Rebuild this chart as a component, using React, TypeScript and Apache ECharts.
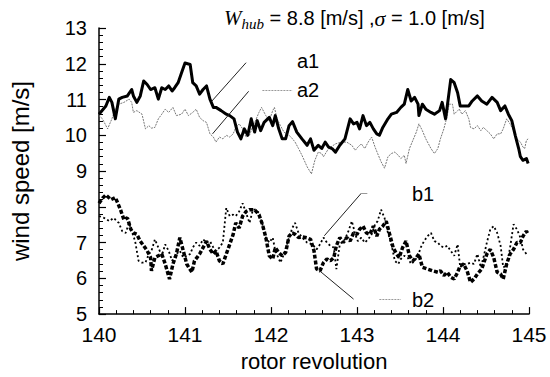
import React, { useEffect, useRef } from "react";
import * as echarts from "echarts";

const xTicks = [140, 141, 142, 143, 144, 145];
const yTicks = [5, 6, 7, 8, 9, 10, 11, 12, 13];

const a1X = [140.00,140.08,140.12,140.15,140.19,140.23,140.27,140.33,140.38,140.40,140.44,140.48,140.52,140.56,140.60,140.65,140.69,140.73,140.77,140.81,140.85,140.88,140.92,140.96,141.00,141.06,141.09,141.13,141.17,141.21,141.25,141.29,141.33,141.36,141.42,141.48,141.52,141.57,141.61,141.65,141.69,141.73,141.77,141.81,141.84,141.88,141.92,141.98,142.02,142.05,142.09,142.13,142.17,142.21,142.25,142.30,142.36,142.42,142.46,142.50,142.55,142.59,142.63,142.67,142.71,142.75,142.80,142.86,142.92,142.96,143.00,143.03,143.07,143.11,143.15,143.19,143.23,143.26,143.30,143.36,143.40,143.46,143.51,143.55,143.59,143.63,143.67,143.71,143.72,143.76,143.80,143.86,143.90,143.96,143.99,144.03,144.05,144.09,144.13,144.17,144.20,144.24,144.30,144.34,144.40,144.45,144.51,144.57,144.63,144.67,144.72,144.76,144.80,144.84,144.88,144.90,144.93,144.97,144.99];
const a1Y = [10.59,10.82,11.06,10.92,10.46,11.01,11.06,11.10,11.28,11.10,10.92,11.10,11.52,11.42,11.28,11.33,11.01,11.33,11.28,11.38,11.24,11.33,11.47,11.75,12.02,11.98,11.47,11.38,11.15,11.28,11.38,11.01,10.78,10.78,10.69,10.59,10.55,10.46,10.09,9.90,10.18,10.00,10.46,10.09,10.41,10.13,10.36,10.50,10.27,10.55,10.18,9.90,9.90,10.27,10.38,10.09,9.90,9.72,9.90,9.58,9.72,9.63,9.81,9.67,9.63,9.53,9.72,9.90,10.46,10.32,10.36,10.18,10.55,10.27,10.36,10.18,10.04,10.00,10.22,10.46,10.59,10.64,10.78,10.87,11.28,10.96,11.06,10.87,10.55,10.87,10.73,10.64,10.59,10.69,10.92,10.46,10.82,11.56,11.47,11.19,10.82,10.82,10.82,10.96,11.10,10.96,10.87,11.06,10.92,10.69,10.82,10.59,10.41,10.00,9.63,9.40,9.30,9.35,9.21];

const a2X = [140.00,140.04,140.10,140.15,140.19,140.23,140.29,140.35,140.38,140.40,140.44,140.50,140.54,140.58,140.61,140.65,140.69,140.73,140.77,140.81,140.86,140.90,140.96,141.00,141.04,141.09,141.13,141.17,141.21,141.25,141.29,141.33,141.36,141.40,141.44,141.48,141.52,141.56,141.59,141.63,141.67,141.71,141.75,141.79,141.82,141.86,141.89,141.94,141.98,142.02,142.04,142.07,142.11,142.15,142.21,142.25,142.28,142.32,142.36,142.42,142.47,142.51,142.55,142.59,142.61,142.67,142.75,142.82,142.88,142.94,142.98,143.01,143.05,143.09,143.13,143.17,143.21,143.24,143.28,143.32,143.36,143.40,143.44,143.48,143.51,143.55,143.57,143.61,143.65,143.69,143.72,143.76,143.80,143.86,143.90,143.94,143.97,144.01,144.05,144.07,144.11,144.13,144.17,144.19,144.22,144.26,144.30,144.32,144.36,144.40,144.44,144.47,144.51,144.55,144.59,144.63,144.67,144.70,144.74,144.78,144.82,144.86,144.90,144.93,144.95,144.97,144.99];
const a2Y = [10.55,10.46,10.18,10.46,10.73,10.87,10.92,11.01,10.92,10.64,10.69,10.59,10.18,10.27,10.20,10.22,10.46,10.59,10.73,10.64,10.78,10.55,10.59,10.73,10.55,10.64,10.73,10.50,10.41,10.36,10.04,9.95,9.81,9.95,9.90,10.00,9.95,10.04,10.22,10.32,10.18,9.95,10.00,10.27,10.41,10.64,10.78,10.55,10.41,10.69,10.78,10.46,10.27,10.09,10.00,9.90,9.81,9.63,9.44,9.12,8.92,9.30,9.53,9.49,9.40,9.63,9.76,9.81,9.81,9.72,9.58,9.67,9.76,9.63,9.81,9.95,9.67,9.49,9.26,9.08,9.40,9.49,9.53,9.44,9.35,9.44,9.21,9.63,9.86,10.09,10.32,10.13,9.90,9.63,9.49,9.63,9.90,10.18,10.55,10.87,10.87,10.59,10.69,10.73,10.59,10.69,10.46,10.22,10.18,10.27,10.13,10.22,10.13,10.04,9.90,10.04,10.04,10.18,10.46,10.32,10.13,9.90,9.81,9.67,9.63,9.86,9.90];

const b1X = [140.00,140.06,140.12,140.17,140.23,140.27,140.31,140.35,140.38,140.42,140.46,140.50,140.54,140.58,140.61,140.65,140.69,140.73,140.77,140.81,140.85,140.90,140.94,140.98,141.02,141.06,141.09,141.13,141.17,141.21,141.25,141.29,141.33,141.36,141.40,141.44,141.48,141.52,141.56,141.59,141.63,141.67,141.71,141.75,141.79,141.82,141.86,141.90,141.94,141.98,142.02,142.05,142.11,142.15,142.21,142.25,142.28,142.32,142.36,142.42,142.48,142.53,142.57,142.61,142.65,142.69,142.73,142.76,142.80,142.86,142.90,142.94,142.98,143.01,143.05,143.09,143.13,143.17,143.21,143.24,143.28,143.32,143.36,143.40,143.44,143.48,143.51,143.55,143.59,143.63,143.67,143.71,143.74,143.78,143.82,143.86,143.90,143.94,143.97,144.01,144.05,144.09,144.13,144.17,144.20,144.24,144.28,144.32,144.36,144.40,144.44,144.47,144.51,144.55,144.59,144.63,144.67,144.70,144.74,144.78,144.82,144.86,144.90,144.93,144.97];
const b1Y = [7.74,7.69,7.60,7.69,7.55,7.32,7.27,7.55,7.32,7.04,6.49,6.44,6.44,6.68,6.77,7.09,6.86,6.63,6.95,6.77,6.49,6.68,6.77,6.58,6.63,6.68,6.86,7.00,6.91,7.09,7.00,7.04,6.86,6.77,6.86,7.00,7.97,7.74,7.78,7.74,7.87,8.10,7.83,7.55,7.92,7.92,7.83,7.51,7.14,7.00,7.14,6.77,6.44,6.68,7.14,7.42,7.55,7.27,7.15,7.00,6.95,6.81,6.95,7.14,7.00,6.91,6.86,6.26,6.95,7.09,7.32,7.60,7.23,7.04,7.14,7.00,7.09,7.23,7.51,7.60,7.92,7.69,7.27,6.95,6.49,6.40,6.54,6.63,6.58,6.40,6.49,6.63,6.86,7.04,7.18,7.27,7.04,7.00,6.91,6.86,6.91,6.77,6.63,6.95,6.31,6.40,6.40,6.44,6.40,6.68,6.31,6.58,7.00,7.37,7.46,7.27,6.91,6.31,6.35,6.86,7.51,7.37,7.14,6.81,6.68];

const b2X = [140.00,140.04,140.08,140.14,140.19,140.21,140.25,140.29,140.33,140.37,140.40,140.44,140.48,140.52,140.56,140.60,140.61,140.65,140.69,140.73,140.77,140.82,140.86,140.90,140.94,140.98,141.02,141.08,141.11,141.17,141.21,141.25,141.29,141.33,141.36,141.40,141.44,141.48,141.52,141.56,141.59,141.63,141.67,141.71,141.75,141.81,141.86,141.90,141.94,141.98,142.02,142.05,142.09,142.13,142.17,142.21,142.25,142.28,142.32,142.36,142.42,142.46,142.50,142.53,142.57,142.61,142.65,142.69,142.73,142.76,142.80,142.84,142.88,142.92,142.96,143.00,143.03,143.07,143.11,143.15,143.19,143.23,143.26,143.30,143.34,143.38,143.42,143.46,143.49,143.53,143.57,143.61,143.65,143.69,143.72,143.76,143.82,143.88,143.94,143.97,144.01,144.05,144.09,144.13,144.17,144.20,144.24,144.28,144.32,144.36,144.40,144.45,144.51,144.55,144.59,144.63,144.67,144.70,144.74,144.78,144.82,144.86,144.90,144.93,144.97,144.99];
const b2Y = [8.10,8.24,8.33,8.20,8.26,8.15,7.92,7.64,7.69,7.37,7.27,7.23,7.04,6.91,6.77,6.58,6.21,6.58,6.63,6.68,6.40,5.98,6.40,6.68,7.14,6.77,6.40,6.17,6.49,6.68,6.86,7.04,6.81,6.68,6.77,6.49,6.40,6.68,6.95,7.23,7.55,7.41,7.74,7.87,7.92,7.92,7.78,7.51,7.14,6.63,6.54,6.86,6.72,6.63,6.72,7.18,7.27,7.23,7.14,7.16,7.13,7.09,6.77,6.26,6.21,6.44,6.54,6.49,6.58,6.91,7.14,7.00,7.14,7.04,7.27,7.23,7.37,7.46,7.27,7.23,7.46,7.18,7.37,7.46,7.60,7.23,6.86,6.68,6.58,6.86,7.04,6.63,6.49,6.58,6.68,6.31,6.26,6.21,6.17,6.21,6.08,6.17,6.03,5.98,6.17,6.35,6.40,6.21,5.89,5.98,6.12,6.26,6.68,6.81,6.58,6.17,6.12,5.98,6.40,6.68,6.81,7.00,7.00,7.18,7.32,7.23];

const zip = (xs: number[], ys: number[]) => xs.map((x, i) => [x, ys[i]]);

const SANS = "'Liberation Sans', Arial, Helvetica, sans-serif";
const SERIF = "'Liberation Serif', 'Times New Roman', serif";

const seg = (p: number[], q: number[], style: any) => [
  { coord: p, lineStyle: style },
  { coord: q },
];

const leader = { color: "#222", width: 1, type: "solid" };

export default function App() {
  const ref = useRef<HTMLDivElement>(null);
  useEffect(() => {
    if (!ref.current) return;
    const chart = echarts.init(ref.current, undefined, { renderer: "svg" });
    const axisCommon = {
      axisLine: { show: true, onZero: false, lineStyle: { color: "#000", width: 1.5 } },
      axisTick: { show: true, inside: true, length: 7, lineStyle: { color: "#000", width: 1.2 } },
      minorTick: { show: true, splitNumber: 5, length: 4, lineStyle: { color: "#000", width: 1 } },
      splitLine: { show: false },
    };
    const mk = (data: any[]) => ({
      silent: true,
      symbol: ["none", "none"],
      label: { show: false },
      animation: false,
      data,
    });
    chart.setOption({
      animation: false,
      backgroundColor: "#fff",
      grid: { left: 95, right: 21, top: 28, bottom: 60 },
      xAxis: {
        type: "value",
        min: xTicks[0],
        max: xTicks[xTicks.length - 1],
        interval: 1,
        name: "rotor revolution",
        nameLocation: "middle",
        nameGap: 34,
        nameTextStyle: { color: "#000", fontFamily: SANS, fontSize: 22 },
        ...axisCommon,
        axisLabel: { color: "#000", fontFamily: SANS, fontSize: 21, margin: 10 },
      },
      yAxis: {
        type: "value",
        min: yTicks[0],
        max: yTicks[yTicks.length - 1],
        interval: 1,
        name: "wind speed [m/s]",
        nameLocation: "middle",
        nameGap: 67,
        nameTextStyle: { color: "#000", fontFamily: SANS, fontSize: 24 },
        ...axisCommon,
        axisLabel: { color: "#000", fontFamily: SANS, fontSize: 20, margin: 12 },
      },
      series: [
        {
          name: "a2",
          type: "line",
          data: zip(a2X, a2Y),
          showSymbol: false,
          lineStyle: { color: "#777", width: 1, type: [2, 1] },
          z: 2,
          markLine: mk([
            seg([141.32, 10.04], [141.74, 11.23], leader),
            seg([141.9, 11.26], [142.25, 11.26], { color: "#999", width: 1, type: [2, 1] }),
          ]),
        },
        {
          name: "a1",
          type: "line",
          data: zip(a1X, a1Y),
          showSymbol: false,
          lineStyle: { color: "#000", width: 3, join: "round" },
          z: 3,
          markLine: mk([seg([141.31, 10.95], [141.71, 12.03], leader)]),
        },
        {
          name: "b1",
          type: "line",
          data: zip(b1X, b1Y),
          showSymbol: false,
          lineStyle: { color: "#000", width: 1.8, type: [2, 2.5] },
          z: 3,
          markLine: mk([
            seg([142.62, 7.19], [143.05, 8.38], leader),
            seg([143.05, 8.38], [143.12, 8.38], { color: "#999", width: 1, type: "solid" }),
          ]),
        },
        {
          name: "b2",
          type: "line",
          data: zip(b2X, b2Y),
          showSymbol: false,
          lineStyle: { color: "#000", width: 3.5, type: [4, 2] },
          z: 4,
          markLine: mk([
            seg([142.56, 6.22], [142.96, 5.42], leader),
            seg([143.26, 5.42], [143.51, 5.42], { color: "#999", width: 1, type: [2, 1] }),
          ]),
        },
      ],
      graphic: [
        {
          type: "text",
          left: 224,
          top: 7,
          style: {
            text: "{w|W}{sub|hub}{n| = 8.8 [m/s] ,}{s|σ}{n| = 1.0 [m/s]}",
            rich: {
              w: { fontFamily: SERIF, fontStyle: "italic", fontSize: 21, lineHeight: 27, fill: "#000" },
              sub: { fontFamily: SERIF, fontStyle: "italic", fontSize: 15, lineHeight: 27, verticalAlign: "bottom", fill: "#000" },
              n: { fontFamily: SANS, fontSize: 20, lineHeight: 27, fill: "#000" },
              s: { fontFamily: SERIF, fontStyle: "italic", fontSize: 22, lineHeight: 27, fill: "#000" },
            },
          },
        },
        { type: "text", left: 297, top: 51, style: { text: "a1", font: `20px ${SANS}`, fill: "#000" } },
        { type: "text", left: 297, top: 80, style: { text: "a2", font: `20px ${SANS}`, fill: "#000" } },
        { type: "text", left: 412, top: 184, style: { text: "b1", font: `20px ${SANS}`, fill: "#000" } },
        { type: "text", left: 412, top: 290, style: { text: "b2", font: `20px ${SANS}`, fill: "#000" } },
      ],
    });
    return () => chart.dispose();
  }, []);
  return <div ref={ref} style={{ width: 550, height: 377, position: "absolute", left: 0, top: 0 }} />;
}
